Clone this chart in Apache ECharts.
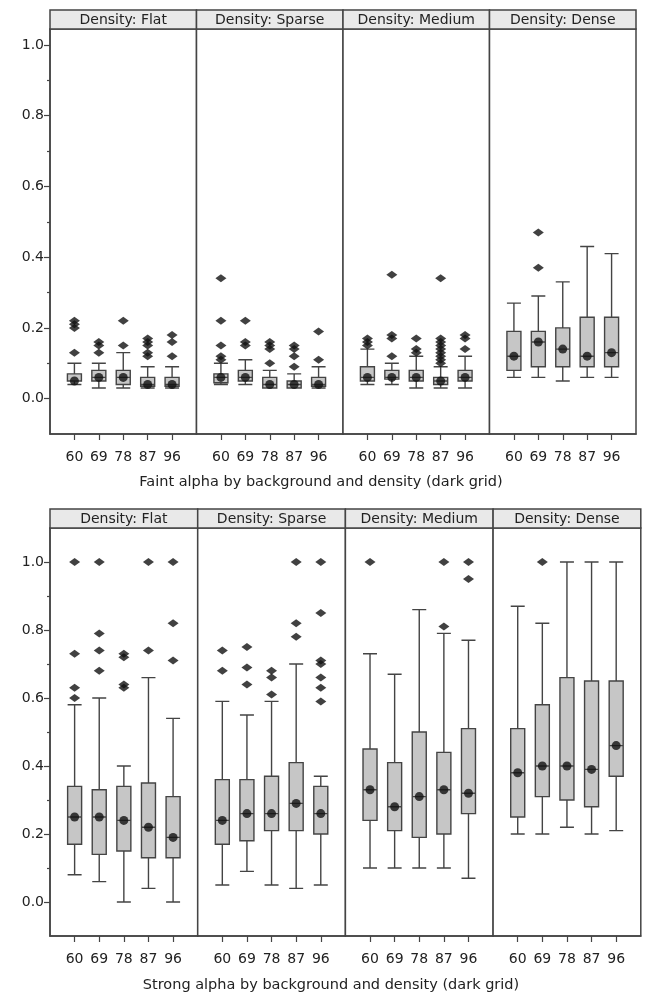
<!DOCTYPE html>
<html><head><meta charset="utf-8">
<script src="https://cdn.jsdelivr.net/npm/echarts@6/dist/echarts.min.js"></script>
<style>html,body{margin:0;padding:0;background:#fff}#c{width:647px;height:996px}</style>
</head><body><div id="c"></div>
<script>
// ---- data ----
const categories = ['60', '69', '78', '87', '96'];
const densities = ['Flat', 'Sparse', 'Medium', 'Dense'];
const yTicks = [0, 0.2, 0.4, 0.6, 0.8, 1.0];
const yMinorTicks = [0.1, 0.3, 0.5, 0.7, 0.9];
const faintTitle = 'Faint alpha by background and density (dark grid)';
const strongTitle = 'Strong alpha by background and density (dark grid)';

// boxes: [min, Q1, median, Q3, max] per background level
const faintFlat   = [[0.04,0.05,0.05,0.07,0.10],[0.03,0.05,0.06,0.08,0.10],[0.03,0.04,0.06,0.08,0.13],[0.03,0.035,0.04,0.06,0.09],[0.03,0.035,0.04,0.06,0.09]];
const faintSparse = [[0.04,0.045,0.06,0.07,0.10],[0.04,0.05,0.06,0.08,0.11],[0.03,0.03,0.04,0.06,0.08],[0.03,0.03,0.04,0.05,0.07],[0.03,0.035,0.04,0.06,0.09]];
const faintMedium = [[0.04,0.05,0.06,0.09,0.14],[0.04,0.055,0.06,0.08,0.10],[0.03,0.05,0.06,0.08,0.12],[0.03,0.04,0.05,0.06,0.09],[0.03,0.05,0.06,0.08,0.12]];
const faintDense  = [[0.06,0.08,0.12,0.19,0.27],[0.06,0.09,0.16,0.19,0.29],[0.05,0.09,0.14,0.20,0.33],[0.06,0.09,0.12,0.23,0.43],[0.06,0.09,0.13,0.23,0.41]];

const faintFlatOut   = [[0.22,0.21,0.20,0.13],[0.16,0.15,0.13],[0.22,0.15],[0.17,0.16,0.15,0.13,0.12],[0.18,0.16,0.12]];
const faintSparseOut = [[0.34,0.22,0.15,0.12,0.11],[0.22,0.16,0.15],[0.16,0.15,0.14,0.10],[0.15,0.14,0.12,0.09],[0.19,0.11]];
const faintMediumOut = [[0.17,0.16,0.15],[0.35,0.18,0.17,0.12],[0.17,0.14,0.13],[0.34,0.17,0.16,0.15,0.14,0.13,0.12,0.11,0.10],[0.18,0.17,0.14]];
const faintDenseOut  = [[],[0.47,0.37],[],[],[]];

const strongFlat   = [[0.08,0.17,0.25,0.34,0.58],[0.06,0.14,0.25,0.33,0.60],[0.00,0.15,0.24,0.34,0.40],[0.04,0.13,0.22,0.35,0.66],[0.00,0.13,0.19,0.31,0.54]];
const strongSparse = [[0.05,0.17,0.24,0.36,0.59],[0.09,0.18,0.26,0.36,0.55],[0.05,0.21,0.26,0.37,0.59],[0.04,0.21,0.29,0.41,0.70],[0.05,0.20,0.26,0.34,0.37]];
const strongMedium = [[0.10,0.24,0.33,0.45,0.73],[0.10,0.21,0.28,0.41,0.67],[0.10,0.19,0.31,0.50,0.86],[0.10,0.20,0.33,0.44,0.79],[0.07,0.26,0.32,0.51,0.77]];
const strongDense  = [[0.20,0.25,0.38,0.51,0.87],[0.20,0.31,0.40,0.58,0.82],[0.22,0.30,0.40,0.66,1.00],[0.20,0.28,0.39,0.65,1.00],[0.21,0.37,0.46,0.65,1.00]];

const strongFlatOut   = [[1.0,0.73,0.63,0.60],[1.0,0.79,0.74,0.68],[0.73,0.72,0.64,0.63],[1.0,0.74],[1.0,0.82,0.71]];
const strongSparseOut = [[0.74,0.68],[0.75,0.69,0.64],[0.68,0.66,0.61],[1.0,0.82,0.78],[1.0,0.85,0.71,0.70,0.66,0.63,0.59]];
const strongMediumOut = [[1.0],[],[],[1.0,0.81],[1.0,0.95]];
const strongDenseOut  = [[],[1.0],[],[],[]];

// ---- layout ----
const FONT = 'DejaVu Sans';
const TEXT = '#222';
const rows = [
  { title: faintTitle, boxes: [faintFlat, faintSparse, faintMedium, faintDense],
    outs: [faintFlatOut, faintSparseOut, faintMediumOut, faintDenseOut],
    left: 50, panelW: 146.5, top: 29, bottom: 434, headerTop: 10, yMin: -0.1, yMax: 1.045, titleX: 321, titleY: 482 },
  { title: strongTitle, boxes: [strongFlat, strongSparse, strongMedium, strongDense],
    outs: [strongFlatOut, strongSparseOut, strongMediumOut, strongDenseOut],
    left: 50, panelW: 147.7, top: 528, bottom: 936, headerTop: 509, yMin: -0.1, yMax: 1.1, titleX: 331, titleY: 985 }
];

const xData = [''].concat(categories, ['']);
const inner = (i) => i >= 1 && i <= categories.length;

const grid = [], xAxis = [], yAxis = [], series = [], graphic = [];
let g = 0;
rows.forEach((row) => {
  densities.forEach((d, p) => {
    const gl = row.left + p * row.panelW;
    grid.push({ left: gl, top: row.top, width: row.panelW, height: row.bottom - row.top,
      show: true, borderColor: '#444', borderWidth: 1.5, backgroundColor: '#fff', containLabel: false });
    xAxis.push({ type: 'category', gridIndex: g, data: xData, boundaryGap: false, position: 'bottom',
      axisLine: { show: true, onZero: false, lineStyle: { color: '#444', width: 1.5 } },
      axisTick: { show: true, interval: (i) => inner(i), length: 6, lineStyle: { color: '#444', width: 1.2 } },
      axisLabel: { interval: (i) => inner(i), fontFamily: FONT, fontSize: 14, color: TEXT, margin: 16 },
      splitLine: { show: false } });
    const yIdx = yAxis.length;
    if (p === 0) {
      yAxis.push({ type: 'value', gridIndex: g, min: row.yMin, max: row.yMax, position: 'left',
        axisLine: { show: true, onZero: false, lineStyle: { color: '#444', width: 1.5 } },
        axisTick: { show: true, customValues: yTicks, length: 6, lineStyle: { color: '#444', width: 1.2 } },
        axisLabel: { customValues: yTicks, formatter: (v) => v.toFixed(1), fontFamily: FONT, fontSize: 14, color: TEXT, margin: 6 },
        splitLine: { show: false } });
      yAxis.push({ type: 'value', gridIndex: g, min: row.yMin, max: row.yMax, position: 'left', offset: 0,
        axisLine: { show: false, onZero: false },
        axisTick: { show: true, customValues: yMinorTicks, length: 3, lineStyle: { color: '#444', width: 1.2 } },
        axisLabel: { show: false }, splitLine: { show: false } });
    } else {
      yAxis.push({ type: 'value', gridIndex: g, min: row.yMin, max: row.yMax, show: false, splitLine: { show: false } });
    }
    const boxes = row.boxes[p];
    series.push({ type: 'boxplot', xAxisIndex: g, yAxisIndex: yIdx,
      data: boxes.map((b, i) => [i + 1].concat(b)),
      encode: { x: 0, y: [1, 2, 3, 4, 5] },
      boxWidth: [14, 14],
      itemStyle: { color: '#c6c6c6', borderColor: '#444', borderWidth: 1.4 },
      emphasis: { disabled: true }, silent: true, z: 2 });
    series.push({ type: 'scatter', xAxisIndex: g, yAxisIndex: yIdx,
      data: boxes.map((b, i) => [i + 1, b[2]]),
      symbol: 'circle', symbolSize: 9, itemStyle: { color: '#111' }, silent: true, z: 3 });
    const outPts = [];
    row.outs[p].forEach((arr, i) => arr.forEach((v) => outPts.push([i + 1, v])));
    series.push({ type: 'scatter', xAxisIndex: g, yAxisIndex: yIdx, data: outPts,
      symbol: 'diamond', symbolSize: [11, 8], itemStyle: { color: '#111' }, silent: true, z: 3 });
    // header strip
    graphic.push({ type: 'rect', shape: { x: gl, y: row.headerTop, width: row.panelW, height: row.top - row.headerTop },
      style: { fill: '#e9e9e9', stroke: '#444', lineWidth: 1.5 }, z: 10 });
    graphic.push({ type: 'text', x: gl + row.panelW / 2, y: (row.headerTop + row.top) / 2 + 0.5,
      style: { text: 'Density: ' + d, font: '14px "' + FONT + '"', fill: TEXT,
        align: 'center', verticalAlign: 'middle', textAlign: 'center', textVerticalAlign: 'middle' }, z: 11 });
    g++;
  });
  graphic.push({ type: 'text', x: row.titleX, y: row.titleY,
    style: { text: row.title, font: '14.5px "' + FONT + '"', fill: TEXT,
      align: 'center', verticalAlign: 'middle', textAlign: 'center', textVerticalAlign: 'middle' }, z: 11 });
});

const chart = echarts.init(document.getElementById('c'), null, { renderer: 'canvas' });
chart.setOption({ animation: false, backgroundColor: '#fff', grid, xAxis, yAxis, series, graphic });
</script></body></html>
